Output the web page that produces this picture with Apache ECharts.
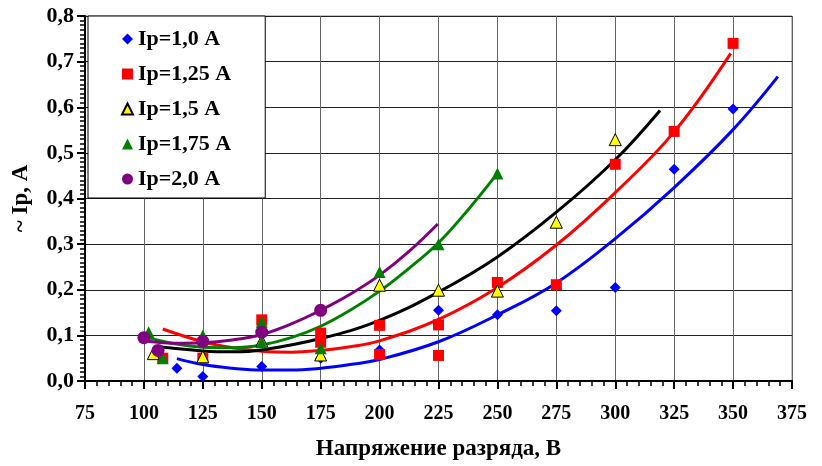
<!DOCTYPE html>
<html>
<head>
<meta charset="utf-8">
<script src="https://cdn.jsdelivr.net/npm/echarts@6/dist/echarts.min.js"></script>
<style>
  html, body { margin: 0; padding: 0; background: #fff; }
  #chart { width: 822px; height: 466px; }
</style>
</head>
<body>
<div id="chart"></div>
<script>
// measured points [U, I]
var ip10 = [[114, 0.028], [125, 0.01], [150, 0.032], [175, 0.05], [200, 0.068], [225, 0.155], [250, 0.145], [275, 0.154], [300, 0.205], [325, 0.464], [350, 0.596]];
var ip125 = [[108, 0.05], [125, 0.05], [150, 0.134], [175, 0.105], [175, 0.085], [200, 0.122], [200, 0.058], [225, 0.123], [225, 0.056], [250, 0.216], [275, 0.211], [300, 0.475], [325, 0.547], [350, 0.74]];
var ip15 = [[104, 0.06], [125, 0.053], [150, 0.088], [175, 0.057], [200, 0.21], [225, 0.199], [250, 0.197], [275, 0.348], [300, 0.529]];
var ip175 = [[102, 0.107], [108, 0.05], [125, 0.1], [150, 0.13], [150, 0.085], [175, 0.072], [200, 0.239], [225, 0.3], [250, 0.455]];
var ip20 = [[100, 0.095], [106, 0.067], [125, 0.087], [150, 0.107], [175, 0.155]];

// trend curves
var trend10 = [[114, 0.049], [125, 0.036], [137.5, 0.028], [150, 0.024], [162.5, 0.024], [175, 0.028], [187.5, 0.036], [200, 0.047], [225, 0.086], [250, 0.145], [275, 0.215], [300, 0.312], [325, 0.424], [350, 0.551], [369, 0.667]];
var trend125 = [[108, 0.114], [125, 0.086], [137.5, 0.073], [150, 0.065], [162.5, 0.063], [175, 0.067], [187.5, 0.075], [200, 0.088], [225, 0.135], [250, 0.205], [275, 0.298], [300, 0.413], [325, 0.546], [349, 0.718]];
var trend15 = [[104.5, 0.076], [125, 0.066], [137.5, 0.064], [150, 0.068], [175, 0.093], [200, 0.133], [225, 0.195], [250, 0.272], [275, 0.37], [300, 0.485], [319, 0.593]];
var trend175 = [[102, 0.095], [112.5, 0.082], [125, 0.074], [137.5, 0.073], [150, 0.079], [162.5, 0.095], [175, 0.12], [187.5, 0.155], [200, 0.197], [212.5, 0.247], [225, 0.303], [237.5, 0.375], [250, 0.455]];
var trend20 = [[100, 0.088], [112.5, 0.083], [125, 0.084], [137.5, 0.09], [150, 0.102], [162.5, 0.125], [175, 0.155], [187.5, 0.19], [200, 0.232], [212.5, 0.284], [224.7, 0.344]];

var names = ['Ip=1,0 A', 'Ip=1,25 A', 'Ip=1,5 A', 'Ip=1,75 A', 'Ip=2,0 A'];

var font = '"Liberation Serif", "Times New Roman", serif';

function curve(data, color) {
    return {
        type: 'line',
        data: data,
        smooth: 0.4,
        symbol: 'none',
        silent: true,
        lineStyle: { color: color, width: 3 },
        z: 2
    };
}

function points(name, data, symbol, size, color, border) {
    return {
        name: name,
        type: 'scatter',
        data: data,
        symbol: symbol,
        symbolSize: size,
        itemStyle: {
            color: color,
            borderColor: border || color,
            borderWidth: border ? 1 : 0,
            opacity: 1
        },
        z: 3
    };
}

var myChart = echarts.init(document.getElementById('chart'));
var option = {
    animation: false,
    backgroundColor: '#fff',
    grid: {
        left: 85,
        right: 30,
        top: 16,
        bottom: 83,
        show: true,
        borderColor: '#888',
        borderWidth: 1
    },
    legend: {
        data: names,
        orient: 'vertical',
        left: 88,
        top: 16,
        padding: [12, 34, 8, 33],
        itemGap: 13,
        itemWidth: 11,
        itemHeight: 11,
        backgroundColor: '#fff',
        borderColor: '#000',
        borderWidth: 1,
        borderRadius: 0,
        textStyle: { fontFamily: font, fontWeight: 'bold', fontSize: 22, color: '#000' }
    },
    xAxis: {
        type: 'value',
        min: 75,
        max: 375,
        interval: 25,
        name: 'Напряжение разряда, В',
        nameLocation: 'middle',
        nameGap: 57,
        nameTextStyle: { fontFamily: font, fontWeight: 'bold', fontSize: 23, color: '#000' },
        axisLine: { onZero: false, lineStyle: { color: '#000', width: 2 } },
        axisTick: { show: true, inside: false, length: 8, lineStyle: { color: '#000', width: 2 } },
        minorTick: { show: true, splitNumber: 5, length: 5, lineStyle: { color: '#000', width: 1.5 } },
        axisLabel: { margin: 23, fontFamily: font, fontWeight: 'bold', fontSize: 20, color: '#000' },
        splitLine: { show: true, lineStyle: { color: '#666', width: 1 } }
    },
    yAxis: {
        type: 'value',
        min: 0,
        max: 0.8,
        interval: 0.1,
        name: '~ Ip, A',
        nameLocation: 'middle',
        nameGap: 52,
        nameTextStyle: { fontFamily: font, fontWeight: 'bold', fontSize: 23, color: '#000' },
        axisLine: { show: true, onZero: false, lineStyle: { color: '#000', width: 2 } },
        axisTick: { show: true, inside: false, length: 8, lineStyle: { color: '#000', width: 2 } },
        minorTick: { show: true, splitNumber: 10, length: 5, lineStyle: { color: '#000', width: 1.5 } },
        axisLabel: {
            margin: 11,
            fontFamily: font,
            fontWeight: 'bold',
            fontSize: 22,
            color: '#000',
            formatter: function (v) {
                return v.toFixed(1).replace('.', ',');
            }
        },
        splitLine: { show: true, lineStyle: { color: '#222', width: 1 } }
    },
    series: [
        curve(trend10, '#0000ff'),
        curve(trend125, '#ff0000'),
        curve(trend15, '#000000'),
        curve(trend175, '#008000'),
        curve(trend20, '#800080'),
        points(names[0], ip10, 'diamond', 11, '#0000ff'),
        points(names[1], ip125, 'rect', 11, '#ff0000'),
        points(names[2], ip15, 'triangle', 12, '#ffff00', '#000000'),
        points(names[3], ip175, 'triangle', 12, '#008000'),
        points(names[4], ip20, 'circle', 13, '#800080')
    ]
};
option && myChart.setOption(option);
</script>
</body>
</html>
